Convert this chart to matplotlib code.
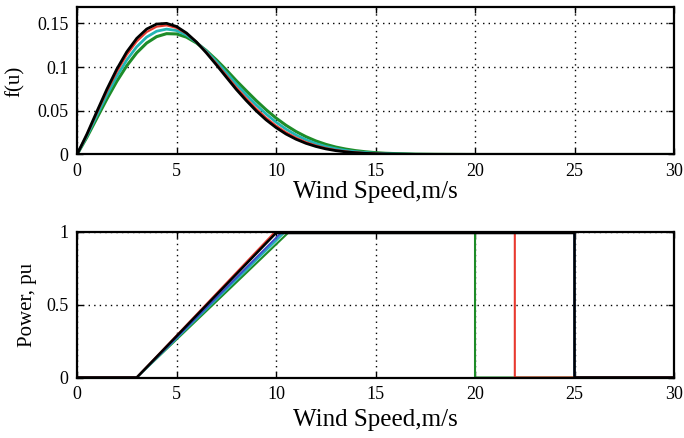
"""Wind speed distribution f(u) and turbine power curves, two stacked panels."""

import matplotlib

matplotlib.use("Agg")
import matplotlib.pyplot as plt  # noqa: E402

plt.rcParams["font.family"] = ["Liberation Serif", "DejaVu Serif"]

# --- top panel: wind speed pdf ---
u_pdf = [0, 0.5, 1, 1.5, 2, 2.5, 3, 3.5, 4, 4.5, 5, 5.5, 6, 6.5, 7, 7.5, 8,
         8.5, 9, 9.5, 10, 10.5, 11, 11.5, 12, 12.5, 13, 13.5, 14, 14.5, 15, 15.5, 16,
         17, 18, 20, 25, 30]
f_black = [0, .0234, .0493, .0746, .0977, .1174, .1328, .1435, .1492, .1500, .1464, .1390,
           .1287, .1162, .1026, .0885, .0745, .0618, .0500, .0396, .0308, .0234, .0175,
           .0128, .0092, .0064, .0044, .0030, .0020, .0013, .0008, .0005, .0003,
           .0001, 0, 0, 0, 0]
f_red = [0, .0226, .0476, .0721, .0946, .1140, .1293, .1401, .1462, .1477, .1448, .1383,
         .1288, .1171, .1041, .0905, .0768, .0643, .0525, .0420, .0330, .0254, .0192,
         .0142, .0103, .0073, .0051, .0035, .0024, .0016, .0010, .0006, .0004,
         .0001, 0, 0, 0, 0]
f_cyan = [0, .0213, .0448, .0680, .0895, .1081, .1232, .1343, .1410, .1434, .1418, .1366,
          .1285, .1182, .1063, .0937, .0806, .0684, .0568, .0463, .0370, .0290, .0223,
          .0169, .0125, .0091, .0066, .0046, .0032, .0022, .0014, .0009, .0006,
          .0002, .0001, 0, 0, 0]
f_green = [0, .0198, .0417, .0634, .0837, .1015, .1163, .1275, .1348, .1382, .1379, .1342,
           .1276, .1188, .1083, .0968, .0845, .0730, .0617, .0512, .0417, .0334, .0263,
           .0204, .0155, .0116, .0085, .0062, .0044, .0031, .0021, .0014, .0010,
           .0004, .0002, 0, 0, 0]

# --- bottom panel: power curves (cut-in, rated, cut-out) ---
u_black = [0, 3, 10.0, 25, 25, 30]
u_red = [0, 3, 9.9, 22, 22, 30]
u_blue = [0, 3, 10.25, 25, 25, 30]
u_cyan = [0, 3, 10.4, 25, 25, 30]
u_green = [0, 3, 10.6, 20, 20, 30]
p_curve = [0, 0, 0.99, 0.99, 0, 0]

C_BLACK = "black"
C_RED = "#e8392f"
C_BLUE = "#3a4fc8"
C_CYAN = "#22b4b4"
C_GREEN = "#1e8c28"

TICK_FS = 13
LABEL_FS = 15
XLABEL_FS = 18


def style_axes(ax):
    for s in ax.spines.values():
        s.set_linewidth(1.6)
    ax.tick_params(direction="in", top=True, right=True, length=4, width=1,
                   labelsize=TICK_FS, pad=6)
    ax.grid(True, color="black", linestyle=(0, (1, 3)), linewidth=1)
    ax.set_axisbelow(True)


def main():
    fig = plt.figure(figsize=(6.84, 4.38), dpi=100)
    ax1 = fig.add_axes([0.1126, 0.6473, 0.8728, 0.3361])
    ax2 = fig.add_axes([0.1126, 0.1381, 0.8728, 0.3333])

    ax1.plot(u_pdf, f_green, color=C_GREEN, lw=2.2)
    ax1.plot(u_pdf, f_cyan, color=C_CYAN, lw=2.0)
    ax1.plot(u_pdf, f_red, color=C_RED, lw=1.5)
    ax1.plot(u_pdf, f_black, color=C_BLACK, lw=2.0)
    ax1.set_xlim(0, 30)
    ax1.set_ylim(0, 0.1684)
    ax1.set_xticks([0, 5, 10, 15, 20, 25, 30])
    ax1.set_yticks([0, 0.05, 0.1, 0.15])
    ax1.set_yticklabels(["0", "0.05", "0.1", "0.15"])
    ax1.set_xlabel("Wind Speed,m/s", fontsize=XLABEL_FS)
    ax1.set_ylabel("f(u)", fontsize=LABEL_FS)
    ax1.xaxis.set_label_coords(0.5, -0.178)
    ax1.yaxis.set_label_coords(-0.087, 0.5)
    style_axes(ax1)

    ax2.plot(u_green, p_curve, color=C_GREEN, lw=1.5)
    ax2.plot(u_cyan, p_curve, color=C_CYAN, lw=1.5)
    ax2.plot(u_blue, p_curve, color=C_BLUE, lw=1.5)
    ax2.plot(u_red, p_curve, color=C_RED, lw=1.5)
    ax2.plot(u_black, p_curve, color=C_BLACK, lw=1.8)
    ax2.set_xlim(0, 30)
    ax2.set_ylim(0, 1)
    ax2.set_xticks([0, 5, 10, 15, 20, 25, 30])
    ax2.set_yticks([0, 0.5, 1])
    ax2.set_yticklabels(["0", "0.5", "1"])
    ax2.set_xlabel("Wind Speed,m/s", fontsize=XLABEL_FS)
    ax2.set_ylabel("Power, pu", fontsize=LABEL_FS)
    ax2.xaxis.set_label_coords(0.5, -0.213)
    ax2.yaxis.set_label_coords(-0.0675, 0.5)
    style_axes(ax2)

    fig.savefig("out.png", dpi=100)


if __name__ == "__main__":
    main()
